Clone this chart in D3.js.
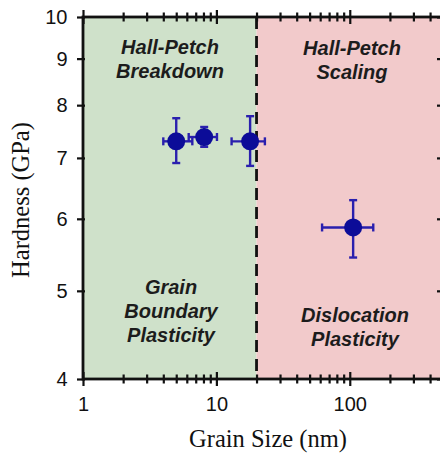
<!DOCTYPE html>
<html>
<head>
<meta charset="utf-8">
<script src="https://cdn.jsdelivr.net/npm/d3@7"></script>
<style>
  body { margin: 0; background: #fff; }
</style>
</head>
<body>
<div id="chart"></div>
<script>
// values
const grainSize = [5, 8.1, 17.9, 106];
const hardness = [7.3, 7.38, 7.3, 5.87];
const hardnessLow = [6.91, 7.2, 6.86, 5.44];
const hardnessHigh = [7.74, 7.57, 7.78, 6.29];
const grainSizeLow = [4.0, 6.2, 13.0, 62];
const grainSizeHigh = [6.6, 10.1, 23.1, 150];

const xTickLabels = [1, 10, 100];
const yTickLabels = [4, 5, 6, 7, 8, 9, 10];
const boundarySize = 20;

const regionTexts = [
    ["Hall-Petch", "Breakdown"],
    ["Hall-Petch", "Scaling"],
    ["Grain", "Boundary", "Plasticity"],
    ["Dislocation", "Plasticity"]
];

const width = 440, height = 454;
const margin = {top: 17, left: 83};
const plotW = 360, plotH = 362;

const svg = d3.select("#chart").append("svg")
    .attr("width", width)
    .attr("height", height);

const g = svg.append("g")
    .attr("transform", `translate(${margin.left}, ${margin.top})`);

const x = d3.scaleLog().domain([1, 500]).range([0, plotW]);
const y = d3.scaleLog().domain([4, 10]).range([plotH, 0]);

// shaded regimes
g.append("rect")
    .attr("x", x(1)).attr("y", 0)
    .attr("width", x(boundarySize) - x(1)).attr("height", plotH)
    .attr("fill", "#cfe1ca");
g.append("rect")
    .attr("x", x(boundarySize)).attr("y", 0)
    .attr("width", x(500) - x(boundarySize)).attr("height", plotH)
    .attr("fill", "#f2cacb");

g.append("line")
    .attr("x1", x(boundarySize)).attr("x2", x(boundarySize))
    .attr("y1", 0).attr("y2", plotH)
    .attr("stroke", "#111")
    .attr("stroke-width", 2.8)
    .attr("stroke-dasharray", "12,7");

// minor ticks for the log axis
let minorTicks = [];
[1, 10, 100].forEach(dec => {
    for (let k = 2; k <= 9; k++) {
        if (dec * k <= 500) minorTicks.push(dec * k);
    }
});

const font = "'Liberation Sans', Arial, sans-serif";

function styleAxis(sel) {
    sel.select(".domain").remove();
    sel.selectAll(".tick line").attr("stroke", "#111").attr("stroke-width", 2.2);
    sel.selectAll(".tick text")
        .attr("fill", "#111")
        .style("font-family", font)
        .style("font-size", "20px");
}

// bottom axis
const xAxisBottom = g.append("g")
    .attr("transform", `translate(0, ${plotH})`)
    .call(d3.axisBottom(x).tickValues(xTickLabels).tickFormat(d3.format("d"))
        .tickSizeInner(7).tickSizeOuter(0).tickPadding(11))
    .call(styleAxis);
xAxisBottom.selectAll(".tick line").attr("y1", -7);

g.append("g")
    .attr("transform", `translate(0, ${plotH})`)
    .call(d3.axisBottom(x).tickValues(minorTicks).tickFormat("").tickSizeInner(4.5).tickSizeOuter(0))
    .call(styleAxis)
    .selectAll(".tick line").attr("y1", -4.5);

// top axis
const xAxisTop = g.append("g")
    .call(d3.axisTop(x).tickValues(xTickLabels).tickFormat("").tickSizeInner(7).tickSizeOuter(0))
    .call(styleAxis);
xAxisTop.selectAll(".tick line").attr("y1", 7);

g.append("g")
    .call(d3.axisTop(x).tickValues(minorTicks).tickFormat("").tickSizeInner(4.5).tickSizeOuter(0))
    .call(styleAxis)
    .selectAll(".tick line").attr("y1", 4.5);

// left axis
g.append("g")
    .call(d3.axisLeft(y).tickValues(yTickLabels).tickFormat(d3.format("d"))
        .tickSizeInner(6).tickSizeOuter(0).tickPadding(9.5))
    .call(styleAxis)
    .selectAll(".tick line").attr("x1", 2);

// right axis
g.append("g")
    .attr("transform", `translate(${plotW}, 0)`)
    .call(d3.axisLeft(y).tickValues(yTickLabels).tickFormat("").tickSizeInner(6).tickSizeOuter(0))
    .call(styleAxis);

// frame
g.append("rect")
    .attr("x", 0).attr("y", 0)
    .attr("width", plotW).attr("height", plotH)
    .attr("fill", "none")
    .attr("stroke", "#111")
    .attr("stroke-width", 2.8);

// regime labels
const labelPos = [[87, 37], [269, 38], [88, 277], [272, 305]];
regionTexts.forEach((lines, i) => {
    const t = g.append("text")
        .attr("text-anchor", "middle")
        .attr("fill", "#1c1c1c")
        .style("font-family", font)
        .style("font-weight", "bold")
        .style("font-style", "italic")
        .style("font-size", "20px");
    lines.forEach((line, j) => {
        t.append("tspan")
            .attr("x", labelPos[i][0])
            .attr("y", labelPos[i][1] + j * 24)
            .text(line);
    });
});

// data points with error bars
const points = grainSize.map((d, i) => ({
    size: d, hard: hardness[i],
    hLo: hardnessLow[i], hHi: hardnessHigh[i],
    sLo: grainSizeLow[i], sHi: grainSizeHigh[i]
}));

const errColor = "#2a1fae";
const cap = 4;
const errs = g.append("g")
    .attr("stroke", errColor)
    .attr("stroke-width", 2.4);

points.forEach(p => {
    const cx = x(p.size), cy = y(p.hard);
    errs.append("line").attr("x1", cx).attr("x2", cx).attr("y1", y(p.hLo)).attr("y2", y(p.hHi));
    errs.append("line").attr("x1", cx - cap).attr("x2", cx + cap).attr("y1", y(p.hLo)).attr("y2", y(p.hLo));
    errs.append("line").attr("x1", cx - cap).attr("x2", cx + cap).attr("y1", y(p.hHi)).attr("y2", y(p.hHi));
    errs.append("line").attr("x1", x(p.sLo)).attr("x2", x(p.sHi)).attr("y1", cy).attr("y2", cy);
    errs.append("line").attr("x1", x(p.sLo)).attr("x2", x(p.sLo)).attr("y1", cy - cap).attr("y2", cy + cap);
    errs.append("line").attr("x1", x(p.sHi)).attr("x2", x(p.sHi)).attr("y1", cy - cap).attr("y2", cy + cap);
});

g.selectAll("circle.pt")
    .data(points)
    .enter()
    .append("circle")
    .attr("class", "pt")
    .attr("cx", d => x(d.size))
    .attr("cy", d => y(d.hard))
    .attr("r", 9)
    .attr("fill", "#0c0c98");

// axis titles
svg.append("text")
    .attr("text-anchor", "middle")
    .attr("x", 268).attr("y", 447)
    .attr("fill", "#111")
    .style("font-family", "'Liberation Serif', 'Times New Roman', serif")
    .style("font-size", "24.5px")
    .text("Grain Size (nm)");

svg.append("text")
    .attr("text-anchor", "middle")
    .attr("transform", "translate(29, 200) rotate(-90)")
    .attr("fill", "#111")
    .style("font-family", "'Liberation Serif', 'Times New Roman', serif")
    .style("font-size", "24.5px")
    .text("Hardness (GPa)");
</script>
</body>
</html>
